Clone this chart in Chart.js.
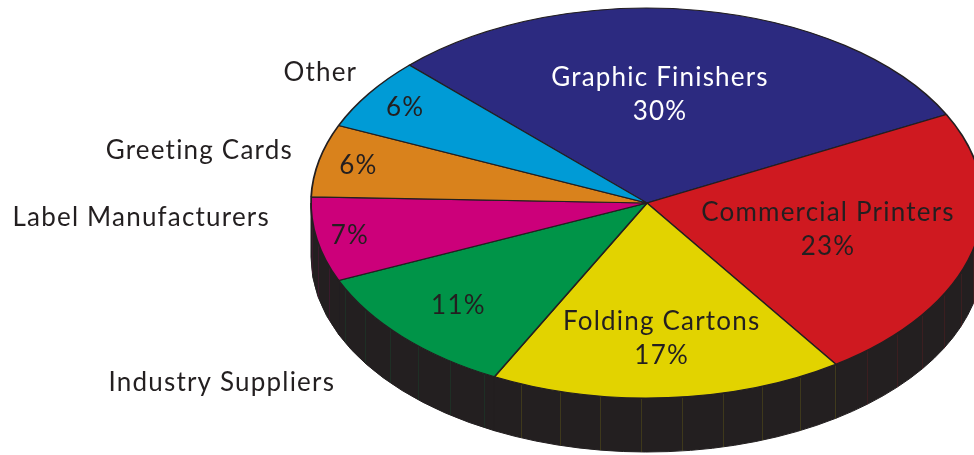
<!DOCTYPE html>
<html>
<head>
<meta charset="utf-8">
<script src="https://cdn.jsdelivr.net/npm/chart.js@4.4.1/dist/chart.umd.min.js"></script>
<style>
  html, body { margin: 0; padding: 0; background: #ffffff; }
  #wrap { width: 974px; height: 455px; overflow: hidden; }
</style>
</head>
<body>
<div id="wrap"><canvas id="c" width="974" height="455"></canvas></div>
<script>
// ---- data ----
const categories = ['Graphic Finishers', 'Commercial Printers', 'Folding Cartons', 'Industry Suppliers', 'Label Manufacturers', 'Greeting Cards', 'Other'];
const shares = [30, 23, 17, 11, 7, 6, 6];
const sliceColors = ['#2c2a80', '#cf1920', '#e2d300', '#009448', '#cc007a', '#d9821c', '#009bd6'];

// ---- 3D look (layout) ----
const GEO = { cx: 647, cy: 203, rx: 336, ry: 195, depth: 54 };
const SIDE = '#231f20';
const FONT = '26px Lato, "Open Sans", sans-serif';
const LETTER_SPACING = '1.2px';
// label placement relative to each slice: [radial fraction, angle nudge (deg)]
const innerPos = [[0.555, -5], [0.556, 0], [0.695, 0], [0.77, 0], [0.9, 0], [0.88, 0], [0.87, 0]];
const innerShowName = [true, true, true, false, false, false, false];
const innerColor = ['#ffffff', SIDE, SIDE, SIDE, SIDE, SIDE, SIDE];
const outerPos = [null, null, null, [1.306, -1.5], [1.125, 6.9], [1.087, 1.6], [1.09, 3.5]];

function ellPt(t, r, dy) {
  return [GEO.cx + r * GEO.rx * Math.cos(t), GEO.cy + r * GEO.ry * Math.sin(t) + (dy || 0)];
}

const pie3d = {
  id: 'pie3d',
  beforeDatasetsDraw(chart) {
    const ctx = chart.ctx;
    const arcs = chart.getDatasetMeta(0).data;
    ctx.save();
    const H = GEO.depth;
    arcs.forEach((arc, i) => {
      for (let k = -1; k <= 1; k++) {
        const a = Math.max(arc.startAngle, k * 2 * Math.PI);
        const b = Math.min(arc.endAngle, k * 2 * Math.PI + Math.PI);
        if (b <= a) continue;
        ctx.beginPath();
        ctx.ellipse(GEO.cx, GEO.cy, GEO.rx, GEO.ry, 0, a, b, false);
        ctx.ellipse(GEO.cx, GEO.cy + H, GEO.rx, GEO.ry, 0, b, a, true);
        ctx.closePath();
        ctx.fillStyle = SIDE;
        ctx.fill();
        ctx.strokeStyle = SIDE;
        ctx.lineWidth = 1;
        ctx.stroke();
        // faint vertical seams
        ctx.globalAlpha = 0.18;
        ctx.strokeStyle = sliceColors[i];
        ctx.lineWidth = 0.8;
        const step = 7 * Math.PI / 180;
        for (let t = Math.ceil(a / step) * step; t < b; t += step) {
          const p = ellPt(t, 1);
          ctx.beginPath();
          ctx.moveTo(Math.round(p[0]) + 0.5, p[1] + 1);
          ctx.lineTo(Math.round(p[0]) + 0.5, p[1] + H);
          ctx.stroke();
        }
        ctx.globalAlpha = 1;
      }
    });
    ctx.restore();
    // map the library's circular pie onto the tilted ellipse
    const a0 = arcs[0];
    const R = a0.outerRadius;
    ctx.save();
    ctx.translate(GEO.cx, GEO.cy);
    ctx.scale(GEO.rx / R, GEO.ry / R);
    ctx.translate(-a0.x, -a0.y);
  },
  afterDatasetsDraw(chart) {
    const ctx = chart.ctx;
    ctx.restore();
    const arcs = chart.getDatasetMeta(0).data;
    ctx.save();
    ctx.font = FONT;
    if ('letterSpacing' in ctx) ctx.letterSpacing = LETTER_SPACING;
    ctx.textBaseline = 'middle';
    const lineH = 34;
    arcs.forEach((arc, i) => {
      const mid = (arc.startAngle + arc.endAngle) / 2;
      const ip = innerPos[i];
      const p = ellPt(mid + ip[1] * Math.PI / 180, ip[0]);
      ctx.fillStyle = innerColor[i];
      ctx.textAlign = 'center';
      const pct = shares[i] + '%';
      if (innerShowName[i]) {
        ctx.fillText(categories[i], p[0], p[1] - lineH / 2);
        ctx.fillText(pct, p[0], p[1] + lineH / 2);
      } else {
        ctx.fillText(pct, p[0], p[1]);
      }
      const op = outerPos[i];
      if (op) {
        const q = ellPt(mid + op[1] * Math.PI / 180, op[0]);
        ctx.fillStyle = SIDE;
        ctx.textAlign = 'right';
        ctx.fillText(categories[i], q[0], q[1]);
      }
    });
    ctx.restore();
  }
};

new Chart(document.getElementById('c'), {
  type: 'pie',
  data: {
    labels: categories,
    datasets: [{
      data: shares,
      backgroundColor: sliceColors,
      borderColor: SIDE,
      borderWidth: 1.2,
      clip: false
    }]
  },
  options: {
    responsive: false,
    animation: false,
    events: [],
    rotation: -45,
    layout: { padding: 0 },
    plugins: { legend: { display: false }, tooltip: { enabled: false } }
  },
  plugins: [pie3d]
});
</script>
</body>
</html>
